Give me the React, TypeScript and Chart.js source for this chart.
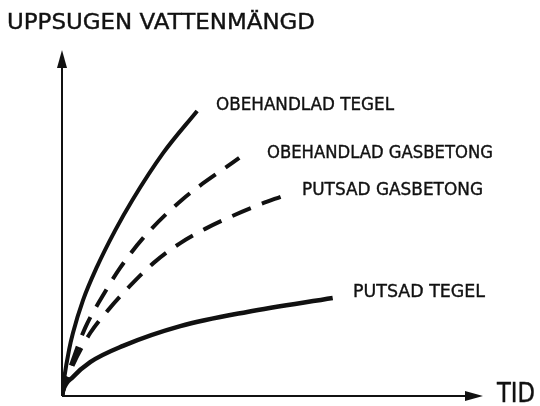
import React, { useEffect, useRef } from "react";
import { Chart, registerables } from "chart.js";

Chart.register(...registerables);

// Arbitrary units (time → x, absorbed water → y), 0..100 each
const seriesNames = [
  "OBEHANDLAD TEGEL",
  "OBEHANDLAD GASBETONG",
  "PUTSAD GASBETONG",
  "PUTSAD TEGEL",
];

const obehandladTegelX = [0, 0.5, 1.7, 2.6, 5.0, 8.3, 12.6, 16.7, 24.0, 32.1];
const obehandladTegelY = [0, 5, 13.5, 18.2, 27.7, 37.3, 47.8, 56.6, 70.2, 82.4];

const obehandladGasbetongX = [0, 0.6, 2.4, 5.5, 9.5, 13.8, 19.3, 28.6, 42.1];
const obehandladGasbetongY = [0, 3.5, 9.8, 19.7, 28.6, 37.0, 45.7, 56.8, 68.8];

const putsadGasbetongX = [0, 0.6, 2.4, 6.7, 11.0, 16.2, 21.7, 28.1, 34.0, 39.3, 46.7, 52.4];
const putsadGasbetongY = [0, 3.0, 8.5, 18.2, 24.9, 31.9, 38.4, 44.2, 48.3, 51.4, 55.2, 57.8];

const putsadTegelX = [0, 0.3, 2.6, 6.7, 14.5, 28.1, 44.0, 64.3];
const putsadTegelY = [0, 1.7, 5.5, 9.8, 14.5, 20.2, 24.3, 28.3];

const yAxisTitle = "UPPSUGEN VATTENMÄNGD";
const xAxisTitle = "TID";

const toPoints = (xs: number[], ys: number[]) => xs.map((x, i) => ({ x, y: ys[i] }));

const FONT = '"DejaVu Sans", sans-serif';

function drawFit(
  ctx: CanvasRenderingContext2D,
  text: string,
  x: number,
  baseline: number,
  width: number,
  size: number
) {
  ctx.save();
  ctx.font = `${size}px ${FONT}`;
  const w = ctx.measureText(text).width;
  ctx.translate(x, baseline);
  ctx.scale(width / w, 1);
  ctx.fillStyle = "#111";
  ctx.strokeStyle = "#111";
  ctx.lineWidth = 0.4;
  ctx.textBaseline = "alphabetic";
  ctx.textAlign = "left";
  ctx.fillText(text, 0, 0);
  ctx.strokeText(text, 0, 0);
  ctx.restore();
}

const figurePlugin = {
  id: "figure",
  beforeDatasetsDraw(chart: any) {
    const { ctx, chartArea } = chart;
    const { left, right, top, bottom } = chartArea;
    ctx.save();
    ctx.strokeStyle = "#111";
    ctx.fillStyle = "#111";
    ctx.lineWidth = 2;
    // x axis
    ctx.beginPath();
    ctx.moveTo(left, bottom);
    ctx.lineTo(right - 12, bottom);
    ctx.stroke();
    ctx.beginPath();
    ctx.moveTo(right, bottom);
    ctx.lineTo(right - 18, bottom - 5);
    ctx.lineTo(right - 18, bottom + 5);
    ctx.closePath();
    ctx.fill();
    // y axis
    ctx.beginPath();
    ctx.moveTo(left, bottom);
    ctx.lineTo(left, top + 12);
    ctx.stroke();
    ctx.beginPath();
    ctx.moveTo(left, top);
    ctx.lineTo(left - 5, top + 18);
    ctx.lineTo(left + 5, top + 18);
    ctx.closePath();
    ctx.fill();
    ctx.restore();
  },
  afterDraw(chart: any) {
    const { ctx } = chart;
    drawFit(ctx, yAxisTitle, 7, 29, 308, 22);
    drawFit(ctx, xAxisTitle, 497, 402, 38, 26);
    drawFit(ctx, seriesNames[0], 216, 110, 178, 18);
    drawFit(ctx, seriesNames[1], 267, 158, 226, 18);
    drawFit(ctx, seriesNames[2], 302, 195, 181, 18);
    drawFit(ctx, seriesNames[3], 353, 297, 132, 18);
  },
};

export default function App() {
  const ref = useRef<HTMLCanvasElement | null>(null);

  useEffect(() => {
    if (!ref.current) return;
    const common = {
      borderColor: "#111",
      pointRadius: 0,
      fill: false,
      cubicInterpolationMode: "monotone" as const,
      borderCapStyle: "butt" as const,
    };
    const chart = new Chart(ref.current, {
      type: "line",
      data: {
        datasets: [
          {
            ...common,
            label: seriesNames[0],
            data: toPoints(obehandladTegelX, obehandladTegelY),
            borderWidth: 4,
          },
          {
            ...common,
            label: seriesNames[1],
            data: toPoints(obehandladGasbetongX, obehandladGasbetongY),
            borderWidth: 4,
            borderDash: [20, 12],
          },
          {
            ...common,
            label: seriesNames[2],
            data: toPoints(putsadGasbetongX, putsadGasbetongY),
            borderWidth: 4,
            borderDash: [20, 12],
          },
          {
            ...common,
            label: seriesNames[3],
            data: toPoints(putsadTegelX, putsadTegelY),
            borderWidth: 4.5,
          },
        ],
      },
      options: {
        responsive: false,
        animation: false,
        layout: { padding: { left: 62, right: 57, top: 50, bottom: 10 } },
        plugins: {
          legend: { display: false },
          tooltip: { enabled: false },
          title: { display: false },
        },
        scales: {
          x: { type: "linear", min: 0, max: 100, display: false },
          y: { type: "linear", min: 0, max: 100, display: false },
        },
      },
      plugins: [figurePlugin],
    });
    return () => chart.destroy();
  }, []);

  return (
    <div style={{ position: "fixed", left: 0, top: 0, width: 540, height: 406, background: "#fff" }}>
      <canvas ref={ref} width={540} height={406} />
    </div>
  );
}
